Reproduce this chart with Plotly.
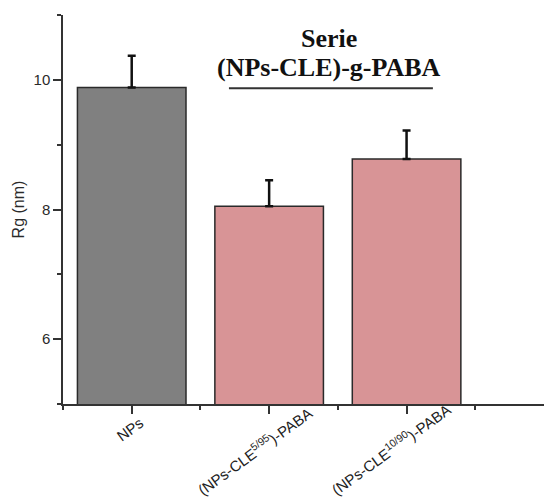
import plotly.graph_objects as go

categories = ["NPs", "(NPs-CLE<sup>5/95</sup>)-PABA", "(NPs-CLE<sup>10/90</sup>)-PABA"]
rg_values = [9.88, 8.05, 8.78]
rg_errors = [0.49, 0.40, 0.44]
bar_colors = ["#808080", "#D89496", "#D89496"]
label_xshift = [-2, -15, -16]
label_ypaper = [-0.066, -0.120, -0.114]

xpos = list(range(len(categories)))

fig = go.Figure()
fig.add_trace(go.Bar(
    x=xpos, y=rg_values, width=0.79,
    marker=dict(color=bar_colors, line=dict(color="#2a2a2a", width=1.5)),
    error_y=dict(type="data", symmetric=False, array=rg_errors,
                 arrayminus=[0] * len(rg_errors),
                 color="#111111", thickness=2.5, width=4),
    showlegend=False,
))

tick_font = dict(family="Liberation Sans", size=15, color="#2a2a2a")
ytitle_font = dict(family="Liberation Sans", size=16, color="#2a2a2a")

fig.update_layout(
    width=544, height=504,
    margin=dict(l=63, r=0, t=15, b=100),
    plot_bgcolor="white", paper_bgcolor="white",
    xaxis=dict(
        range=[-0.5, 3.0], tickvals=xpos, ticktext=[""] * len(xpos),
        showline=True, linecolor="#333333", linewidth=1.5,
        ticks="outside", ticklen=8, tickwidth=1.5, tickcolor="#333333",
        minor=dict(tick0=0.5, dtick=1, ticks="outside", ticklen=4, tickwidth=1.5, tickcolor="#333333"),
        showgrid=False, zeroline=False,
    ),
    yaxis=dict(
        range=[5, 11], tickvals=[6, 8, 10],
        showline=True, linecolor="#333333", linewidth=1.5,
        ticks="outside", ticklen=8, tickwidth=1.5, tickcolor="#333333",
        minor=dict(tick0=5, dtick=1, ticks="outside", ticklen=4, tickwidth=1.5, tickcolor="#333333"),
        tickfont=tick_font,
        title=dict(text="Rg (nm)", font=ytitle_font, standoff=5),
        showgrid=False, zeroline=False,
    ),
)

for i, lab in enumerate(categories):
    fig.add_annotation(
        x=xpos[i], y=label_ypaper[i], xref="x", yref="paper",
        text=lab, showarrow=False, textangle=-36,
        xanchor="center", yanchor="middle", xshift=label_xshift[i],
        font=dict(family="Liberation Sans", size=15, color="#222222"),
    )

title_font = dict(family="Liberation Serif", size=26, color="#111111")
fig.add_annotation(x=0.553, y=0.94, xref="paper", yref="paper", text="<b>Serie</b>",
                   showarrow=False, xanchor="center", yanchor="middle", font=title_font)
fig.add_annotation(x=0.553, y=0.866, xref="paper", yref="paper", text="<b>(NPs-CLE)-g-PABA</b>",
                   showarrow=False, xanchor="center", yanchor="middle", font=title_font)
fig.add_shape(type="line", xref="paper", yref="paper", x0=0.345, x1=0.769, y0=0.812, y1=0.812,
              line=dict(color="#333333", width=2))

fig.write_html("out.html")
